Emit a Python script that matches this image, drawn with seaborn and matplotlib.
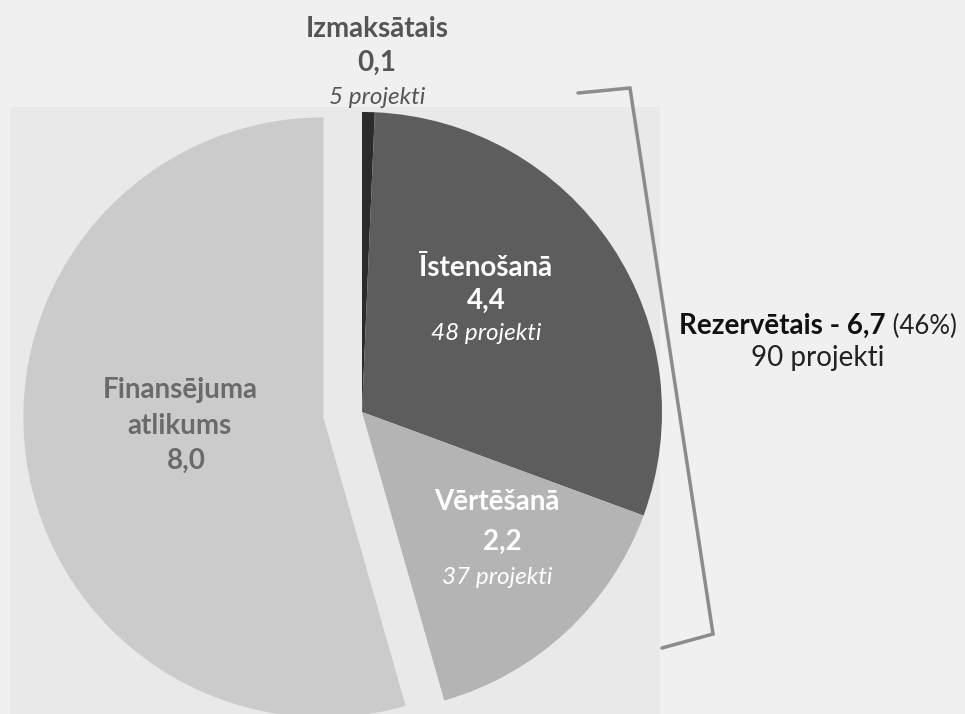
import matplotlib
matplotlib.use('Agg')
import matplotlib.pyplot as plt
from matplotlib.patches import Rectangle
import seaborn as sns

# data (milj. EUR)
labels = ['Izmaksātais', 'Īstenošanā', 'Vērtēšanā', 'Finansējuma\natlikums']
values = [0.1, 4.4, 2.2, 8.0]
value_text = ['0,1', '4,4', '2,2', '8,0']
projects = ['5 projekti', '48 projekti', '37 projekti', '']
reserved_text = 'Rezervētais - 6,7'
reserved_share = ' (46%)'
reserved_projects = '90 projekti'

sns.set_theme(style='white')
plt.rcParams['font.family'] = ['Lato', 'DejaVu Sans']

colors = ['#2b2b2b', '#5d5d5d', '#b4b4b4', '#cbcbcb']
bg = '#f0f0f0'
H = 714
R = 300  # pie radius in pixels

fig = plt.figure(figsize=(9.65, 7.14), dpi=100, facecolor=bg)
ax = fig.add_axes([0, 0, 1, 1])
ax.set_facecolor(bg)

# faint panel behind the pie (scan look)
ax.add_patch(Rectangle((10, 0), 650, H - 107, color='#e9e9e9', zorder=0, lw=0))

# explode is in data units, so scale by the radius
ax.pie(values, colors=colors, startangle=90, counterclock=False,
       explode=[0, 0, 0, 0.13 * R], center=(362, H - 412), radius=R,
       wedgeprops=dict(linewidth=0), frame=True)
ax.set_xlim(0, 965)
ax.set_ylim(0, H)
ax.set_axis_off()

# label positions (x, y of each line, image coords)
label_pos = [(377, [29, 63, 97]), (486, [268, 301, 334]),
             (497, [502, 542, 577]), (180, [408, 461])]
value_dx = [0, 0, 5, 6]
label_col = ['#555555', 'white', 'white', '#6a6a6a']

for i, (x, ys) in enumerate(label_pos):
    ax.text(x, H - ys[0], labels[i], ha='center', va='center', fontsize=20,
            fontweight='bold', color=label_col[i], linespacing=1.45)
    ax.text(x + value_dx[i], H - ys[1], value_text[i], ha='center',
            va='center', fontsize=20, fontweight='bold', color=label_col[i])
    if projects[i]:
        ax.text(x, H - ys[2], projects[i], ha='center', va='center',
                fontsize=17.5, style='italic', color=label_col[i])

# bracket for reserved part
ax.plot([578, 630, 713, 662], [H - 93, H - 88, H - 634, H - 648],
        color='#8c8c8c', lw=2.5, solid_joinstyle='miter')

t1 = ax.text(886, H - 326, reserved_text, ha='right', va='center',
             fontsize=20, fontweight='bold', color='#111111')
ax.annotate(reserved_share, xy=(1, 0.5), xycoords=t1, va='center',
            ha='left', fontsize=18.5, color='#222222')
ax.text(818, H - 358, reserved_projects, ha='center', va='center',
        fontsize=20, color='#222222')

fig.savefig('out.png', dpi=100, facecolor=bg)
